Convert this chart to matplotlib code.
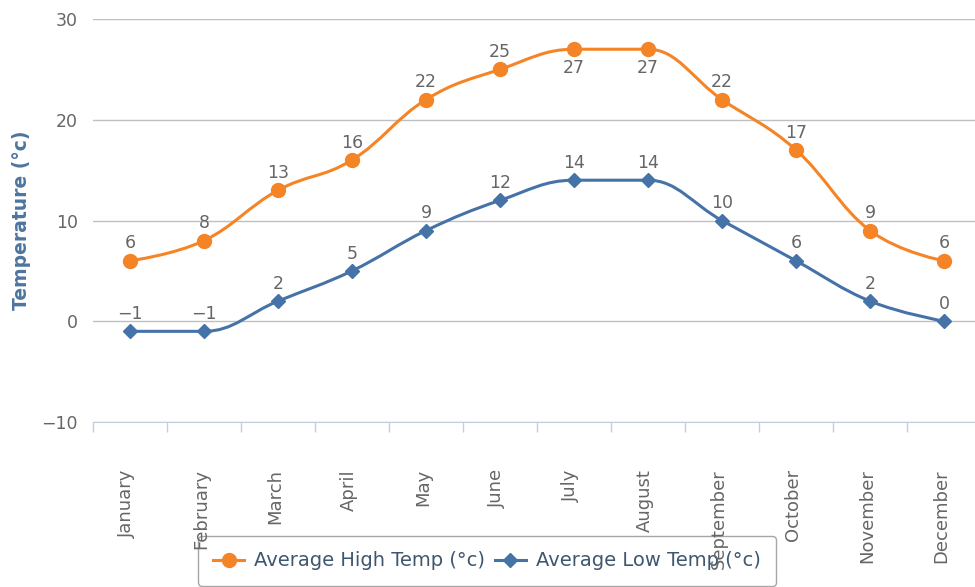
import numpy as np
import matplotlib.pyplot as plt
import matplotlib.transforms as mtransforms
from matplotlib.path import Path
from matplotlib.patches import PathPatch
from matplotlib.lines import Line2D

months = ["January", "February", "March", "April", "May", "June", "July",
          "August", "September", "October", "November", "December"]
high = [6, 8, 13, 16, 22, 25, 27, 27, 22, 17, 9, 6]
low = [-1, -1, 2, 5, 9, 12, 14, 14, 10, 6, 2, 0]
yticks = [-10, 0, 10, 20, 30]

ORANGE = "#F58426"
BLUE = "#4572A7"
GRAY = "#666666"


def spline_path(xs, ys):
    # highcharts-like bezier spline
    n = len(xs)
    lc = [None] * n
    rc = [None] * n
    for i in range(1, n - 1):
        x, y = xs[i], ys[i]
        lx, ly = xs[i - 1], ys[i - 1]
        nx, ny = xs[i + 1], ys[i + 1]
        s, d = 1.5, 2.5
        lcx = (s * x + lx) / d
        lcy = (s * y + ly) / d
        rcx = (s * x + nx) / d
        rcy = (s * y + ny) / d
        corr = (rcy - lcy) * (rcx - x) / (rcx - lcx) + y - rcy
        lcy += corr
        rcy += corr
        if lcy > ly and lcy > y:
            lcy = max(ly, y)
            rcy = 2 * y - lcy
        elif lcy < ly and lcy < y:
            lcy = min(ly, y)
            rcy = 2 * y - lcy
        if rcy > ny and rcy > y:
            rcy = max(ny, y)
            lcy = 2 * y - rcy
        elif rcy < ny and rcy < y:
            rcy = min(ny, y)
            lcy = 2 * y - rcy
        lc[i] = (lcx, lcy)
        rc[i] = (rcx, rcy)
    verts = [(xs[0], ys[0])]
    codes = [Path.MOVETO]
    for i in range(1, n):
        c1 = rc[i - 1] if rc[i - 1] else (xs[i - 1], ys[i - 1])
        c2 = lc[i] if lc[i] else (xs[i], ys[i])
        verts += [c1, c2, (xs[i], ys[i])]
        codes += [Path.CURVE4] * 3
    return Path(verts, codes)


fig = plt.figure(figsize=(9.75, 5.87), dpi=100, facecolor="white")
ax = fig.add_axes([93 / 975, 165 / 587, 888 / 975, 403 / 587])

x = np.arange(len(months))
for vals, col, mk, ms in [(high, ORANGE, "o", 10), (low, BLUE, "D", 7)]:
    ax.add_patch(PathPatch(spline_path(x, vals), facecolor="none",
                           edgecolor=col, lw=2.2, zorder=3))
    ax.plot(x, vals, linestyle="none", marker=mk, color=col, ms=ms, zorder=4)
    for xi, v in zip(x, vals):
        txt = str(v).replace("-", "\u2212")
        if v >= 27:
            ax.annotate(txt, (xi, v), xytext=(0, -7), textcoords="offset points",
                        ha="center", va="top", fontsize=12.5, color=GRAY, zorder=5)
        else:
            ax.annotate(txt, (xi, v), xytext=(0, 6), textcoords="offset points",
                        ha="center", va="bottom", fontsize=12.5, color=GRAY, zorder=5)

ax.set_xlim(-0.5, 11.5)
ax.set_ylim(-10, 30)
ax.set_yticks(yticks)
ax.set_yticklabels([str(t).replace("-", "\u2212") for t in yticks])
ax.grid(axis="y", color="#C0C0C0", lw=1)
ax.set_axisbelow(True)
for sp in ["top", "right", "left"]:
    ax.spines[sp].set_visible(False)
ax.spines["bottom"].set_color("#C0D0E0")
ax.tick_params(axis="y", length=0, pad=11, labelsize=12.5, labelcolor=GRAY)

ax.set_xticks(x)
ax.set_xticklabels(months, rotation=90, ha="center", va="top")
ax.tick_params(axis="x", which="major", length=0, pad=34, labelsize=13, labelcolor=GRAY)
shift = mtransforms.ScaledTranslation(-3 / 100, 0, fig.dpi_scale_trans)
for lab in ax.get_xticklabels():
    lab.set_transform(lab.get_transform() + shift)
ax.set_xticks(np.arange(-0.5, 12, 1), minor=True)
ax.tick_params(axis="x", which="minor", length=7, color="#C0D0E0", width=1)

ax.set_ylabel("Temperature (°c)", fontsize=13.5, fontweight="bold", color="#4D759E")
ax.yaxis.set_label_coords(-62 / 888, 0.5)

handles = [Line2D([], [], color=ORANGE, marker="o", ms=10, lw=2.2),
           Line2D([], [], color=BLUE, marker="D", ms=7, lw=2.2)]
leg = fig.legend(handles, ["Average High Temp (°c)", "Average Low Temp (°c)"],
                 loc="center", bbox_to_anchor=(487 / 975, 1 - 561 / 587), ncol=2,
                 fontsize=14, frameon=True, fancybox=True, edgecolor="#909090",
                 facecolor="none", handlelength=1.6, columnspacing=0.5,
                 handletextpad=0.5, borderpad=0.8)
leg.get_frame().set_linewidth(1)
leg.set_zorder(-1)
for t in leg.get_texts():
    t.set_color("#3E576F")

fig.savefig("out.png", dpi=100, facecolor="white")
